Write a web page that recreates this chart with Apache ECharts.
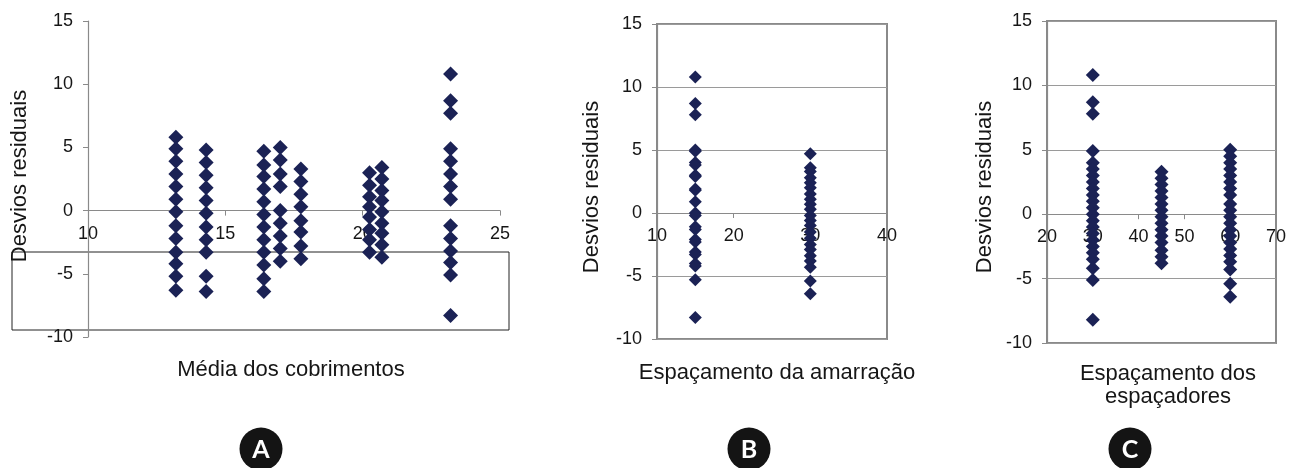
<!DOCTYPE html>
<html>
<head>
<meta charset="utf-8">
<script src="https://cdn.jsdelivr.net/npm/echarts@6/dist/echarts.min.js"></script>
<style>
  html, body { margin: 0; padding: 0; background: #fff; }
  #chart { width: 1295px; height: 468px; }
</style>
</head>
<body>
<div id="chart"></div>
<script>
// tick labels
const yTicks = [-10, -5, 0, 5, 10, 15];
const xTicksA = [10, 15, 20, 25];
const xTicksB = [10, 20, 30, 40];
const xTicksC = [20, 30, 40, 50, 60, 70];

// A: média dos cobrimentos
const colsA = [13.2, 14.3, 16.4, 17.0, 17.75, 20.25, 20.7, 23.2];
const resA1 = [5.8, 4.9, 3.9, 2.9, 1.9, 0.9, -0.1, -1.2, -2.2, -3.3, -4.2, -5.2, -6.3];
const resA2 = [4.8, 3.8, 2.8, 1.8, 0.8, -0.2, -1.3, -2.3, -3.3, -5.2, -6.4];
const resA3 = [4.7, 3.6, 2.7, 1.7, 0.7, -0.3, -1.3, -2.3, -3.3, -4.3, -5.4, -6.4];
const resA4 = [5.0, 4.0, 2.9, 1.9, 0.0, -1.0, -2.0, -3.0, -4.0];
const resA5 = [3.3, 2.3, 1.3, 0.3, -0.8, -1.7, -2.8, -3.8];
const resA6 = [3.0, 2.0, 1.1, 0.3, -0.5, -1.5, -2.3, -3.3];
const resA7 = [3.4, 2.5, 1.6, 0.8, -0.1, -1.0, -1.8, -2.7, -3.7];
const resA8 = [10.8, 8.7, 7.7, 4.9, 3.9, 2.9, 1.9, 0.9, -1.2, -2.2, -3.2, -4.1, -5.1, -8.3];

// B: espaçamento da amarração
const colsB = [15, 30];
const resB1 = [10.8, 8.7, 7.8, 5.0, 4.9, 4.0, 3.8, 3.0, 2.9, 1.9, 1.8, 0.9, 0.0, -0.2, -1.1, -1.3, -2.1, -2.3, -3.1, -3.3, -4.0, -4.2, -5.3, -8.3];
const resB2 = [4.7, 3.6, 3.3, 2.8, 2.4, 2.0, 1.5, 1.1, 0.7, 0.3, -0.2, -0.6, -1.0, -1.5, -2.0, -2.5, -2.9, -3.4, -3.8, -4.3, -5.4, -6.4];

// C: espaçamento dos espaçadores
const colsC = [30, 45, 60];
const resC1 = [10.8, 8.7, 7.8, 4.9, 4.0, 3.5, 3.0, 2.5, 2.0, 1.5, 1.0, 0.5, 0.0, -0.5, -1.0, -1.5, -2.0, -2.5, -3.0, -3.5, -4.2, -5.1, -8.2];
const resC2 = [3.3, 2.8, 2.3, 1.8, 1.3, 0.8, 0.3, -0.2, -0.7, -1.2, -1.7, -2.2, -2.8, -3.3, -3.8];
const resC3 = [5.0, 4.5, 4.0, 3.5, 3.0, 2.5, 2.0, 1.5, 0.8, 0.3, -0.2, -0.7, -1.2, -1.7, -2.2, -2.7, -3.2, -3.7, -4.3, -5.4, -6.4];

const markColor = "#1b2255";
const axisColor = "#8a8a8a";
const textColor = "#161616";
const fontFam = '"Liberation Sans", Arial, sans-serif';

const grids = [
  { left: 88, top: 21, width: 412, height: 316 },
  { left: 657, top: 24, width: 230, height: 315 },
  { left: 1047, top: 21, width: 229, height: 322 },
];

function points(cols, resList) {
  const out = [];
  cols.forEach((x, i) => resList[i].forEach((y) => out.push([x, y])));
  return out;
}

function range(ticks) {
  return { min: ticks[0], max: ticks[ticks.length - 1], interval: ticks[1] - ticks[0] };
}

// x axis sits on y = 0, labels included
function xAxis(idx, ticks) {
  const h = grids[idx].height;
  const lo = yTicks[0], hi = yTicks[yTicks.length - 1];
  return Object.assign({
    gridIndex: idx,
    type: "value",
    position: "bottom",
    offset: -h * (0 - lo) / (hi - lo),
    axisLine: { show: true, onZero: false, lineStyle: { color: axisColor, width: 1.2 } },
    axisTick: { show: true, length: 5, lineStyle: { color: axisColor } },
    axisLabel: { margin: 14, fontSize: 18, color: textColor, fontFamily: fontFam, showMinLabel: true, showMaxLabel: true },
    splitLine: { show: false },
  }, range(ticks));
}

function yAxis(idx, grid) {
  return Object.assign({
    gridIndex: idx,
    type: "value",
    axisLine: { show: true, onZero: false, lineStyle: { color: axisColor, width: 1.2 } },
    axisTick: { show: true, length: 5, lineStyle: { color: axisColor } },
    axisLabel: { margin: 15, fontSize: 18, color: textColor, fontFamily: fontFam, showMinLabel: true, showMaxLabel: true },
    splitLine: { show: grid, lineStyle: { color: "#9a9a9a", width: 1 } },
  }, range(yTicks));
}

function scatter(idx, data, size) {
  return {
    type: "scatter",
    xAxisIndex: idx,
    yAxisIndex: idx,
    symbol: "diamond",
    symbolSize: size,
    itemStyle: { color: markColor, opacity: 1 },
    data: data,
    z: 3,
  };
}

function label(x, y, text, rot) {
  return {
    type: "text",
    x: x,
    y: y,
    rotation: rot || 0,
    z: 10,
    style: { text: text, x: 0, y: 0, font: "22px " + fontFam, fill: textColor, align: "center", verticalAlign: "middle", lineHeight: 23 },
  };
}

function badge(cx, letter) {
  return [
    { type: "circle", shape: { cx: cx, cy: 449, r: 21.5 }, style: { fill: "#141414" }, z: 10 },
    { type: "text", x: cx, y: 450, z: 11, style: { text: letter, x: 0, y: 0, font: "bold 25px Lato, sans-serif", fill: "#fff", align: "center", verticalAlign: "middle" } },
  ];
}

const boxed = { show: true, borderColor: axisColor, borderWidth: 2, backgroundColor: "transparent" };

const chart = echarts.init(document.getElementById("chart"));
chart.setOption({
  animation: false,
  grid: [
    Object.assign({ containLabel: false, outerBoundsMode: "none" }, grids[0]),
    Object.assign({ containLabel: false, outerBoundsMode: "none" }, grids[1], boxed),
    Object.assign({ containLabel: false, outerBoundsMode: "none" }, grids[2], boxed),
  ],
  xAxis: [xAxis(0, xTicksA), xAxis(1, xTicksB), xAxis(2, xTicksC)],
  yAxis: [yAxis(0, false), yAxis(1, true), yAxis(2, true)],
  series: [
    scatter(0, points(colsA, [resA1, resA2, resA3, resA4, resA5, resA6, resA7, resA8]), 15),
    scatter(1, points(colsB, [resB1, resB2]), 13),
    scatter(2, points(colsC, [resC1, resC2, resC3]), 14),
  ],
  graphic: [
    { type: "rect", shape: { x: 12, y: 252, width: 497, height: 78 }, style: { fill: "none", stroke: "#222", lineWidth: 1 }, z: 0 },
    label(20, 176, "Desvios residuais", Math.PI / 2),
    label(592, 187, "Desvios residuais", Math.PI / 2),
    label(985, 187, "Desvios residuais", Math.PI / 2),
    label(291, 370, "Média dos cobrimentos"),
    label(777, 373, "Espaçamento da amarração"),
    label(1168, 385, "Espaçamento dos\nespaçadores"),
    ...badge(261, "A"),
    ...badge(749, "B"),
    ...badge(1130, "C"),
  ],
});
window.addEventListener("resize", () => chart.resize());
</script>
</body>
</html>
